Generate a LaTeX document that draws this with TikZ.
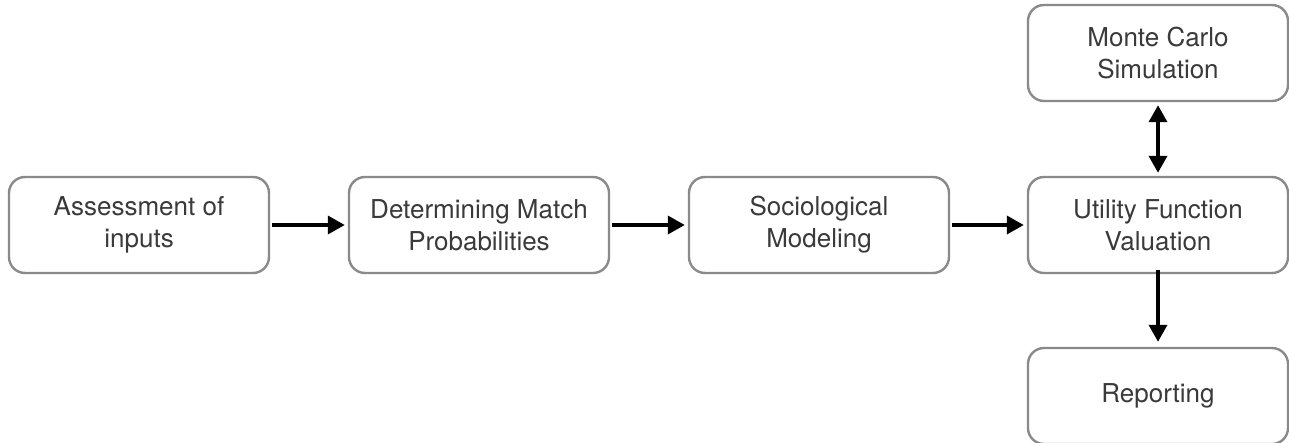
\documentclass[tikz,border=0pt]{standalone}
\usepackage{fontspec}
\setmainfont{TeX Gyre Heros}
\usetikzlibrary{arrows.meta}
\definecolor{boxline}{HTML}{8A8A8A}
\definecolor{txt}{HTML}{3A3A3A}
\begin{document}
\begin{tikzpicture}[x=1pt,y=-1pt,
  stepbox/.style={draw=boxline, line width=2.4pt, rounded corners=16pt, fill=white,
    minimum width=260pt, minimum height=96pt, inner sep=0pt, align=center,
    text=txt, font=\fontsize{26}{32}\selectfont},
  conn/.style={line width=3.6pt, -{Triangle[length=17pt,width=18pt]}},
  conn2/.style={line width=3.6pt, {Triangle[length=17pt,width=18pt]}-{Triangle[length=17pt,width=18pt]}}]
\useasboundingbox (0,0) rectangle (1289,442);
\node[stepbox] (a) at (139,225) {Assessment of\\inputs};
\node[stepbox] (b) at (479,225) {Determining Match\\Probabilities};
\node[stepbox] (c) at (819,225) {Sociological\\Modeling};
\node[stepbox] (d) at (1158,225) {Utility Function\\Valuation};
\node[stepbox] (m) at (1158,53) {Monte Carlo\\Simulation};
\node[stepbox] (r) at (1158,396) {Reporting};
\draw[conn, shorten <=2pt, shorten >=3pt] (a) -- (b);
\draw[conn, shorten <=2pt, shorten >=3pt] (b) -- (c);
\draw[conn, shorten <=2pt, shorten >=3pt] (c) -- (d);
\draw[conn2, shorten <=3pt, shorten >=3pt] (m) -- (d);
\draw[conn, shorten <=-4pt, shorten >=5pt] (d) -- (r);
\end{tikzpicture}
\end{document}
